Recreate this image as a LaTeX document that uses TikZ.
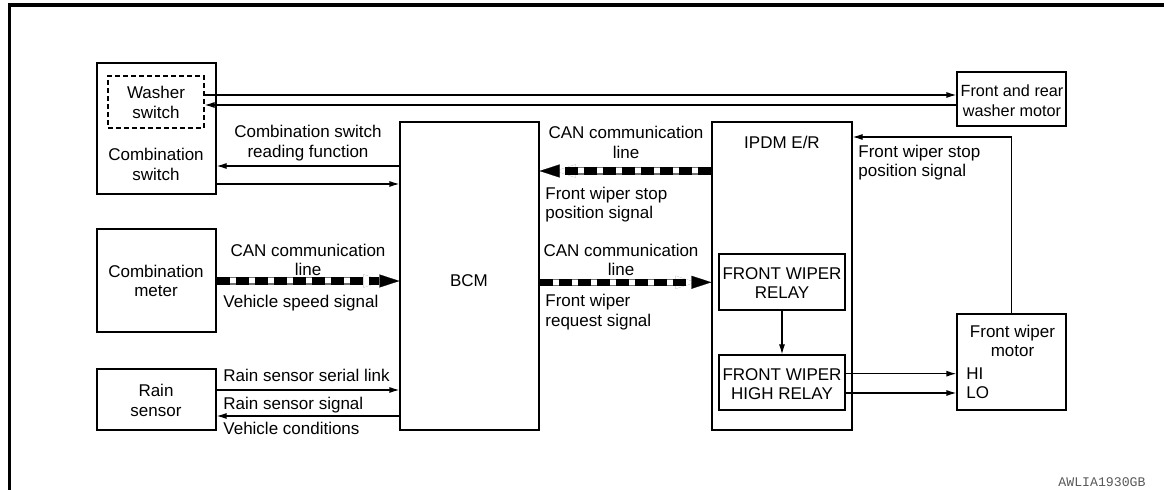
\documentclass[tikz,border=0pt]{standalone}
\usepackage{fontspec}
\setmainfont{Liberation Sans}
\newfontfamily\codefont{Liberation Mono}
\usetikzlibrary{arrows.meta,fit,calc}
\newcommand{\lblfont}{\fontsize{8.5}{9.75}\selectfont}
\tikzset{
  box/.style={draw, line width=0.6pt, inner sep=0pt},
  dbox/.style={draw, line width=0.6pt, inner sep=0pt, dash pattern=on 2.5pt off 1.5pt},
  lbl/.style={font=\lblfont, inner sep=0pt, align=center},
  lbll/.style={font=\lblfont, inner sep=0pt, align=left},
  arr/.style={line width=0.6pt, -{Latex[length=5pt,width=3pt]}},
  canline/.style={
    preaction={draw, black!55, line width=3.6pt, shorten >=8pt},
    preaction={draw, white, line width=2.5pt, shorten >=8pt},
    draw=black, line width=3.6pt, dash pattern=on 6.5pt off 3pt,
    -{Triangle[length=10pt,width=6.5pt,line width=0.1pt]}},
}
\begin{document}
\begin{tikzpicture}[x=0.5pt,y=-0.5pt]
\useasboundingbox (0,0) rectangle (1164,490);
% frame
\draw[line width=1.75pt] (9.3,490) -- (9.3,5) -- (1164,5);

% y-levels
\coordinate (y95) at (0,95);
\coordinate (y105) at (0,105);
\coordinate (y166) at (0,166);
\coordinate (y184) at (0,184);
\coordinate (y171) at (0,171);
\coordinate (y281) at (0,281);
\coordinate (y282) at (0,282.3);
\coordinate (y390) at (0,390);
\coordinate (y416) at (0,416);
\coordinate (y137) at (0,137);
\coordinate (y374) at (0,373.7);
\coordinate (y393) at (0,393);

% boxes
\node[box, fit={(97,63) (216,194)}] (cs) {};
\node[dbox, fit={(108,76) (204,128)}] (ws) {};
\node[box, fit={(97,229) (216,332)}] (cm) {};
\node[box, fit={(97,369) (216,430)}] (rs) {};
\node[box, fit={(400,122) (539,430)}] (bcm) {};
\node[box, fit={(712,122) (852,430)}] (ipdm) {};
\node[box, fit={(719,254) (845,310)}] (relay) {};
\node[box, fit={(719,355) (845,410)}] (hrelay) {};
\node[box, fit={(957,72) (1066,126)}] (wm) {};
\node[box, fit={(957,314) (1066,410)}] (motor) {};

% box texts
\node[lbl] (tws) at (156,102.5) {Washer\\switch};
\node[lbl] (tcs) at (156,164.5) {Combination\\switch};
\node[lbl] (tcm) at (156,281) {Combination\\meter};
\node[lbl] (trs) at (156,400.5) {Rain\\sensor};
\node[lbl] (tbcm) at (469,281) {BCM};
\node[lbl] (tipdm) at (782,142) {IPDM E/R};
\node[lbl] (trelay) at (782,283) {FRONT WIPER\\RELAY};
\node[lbl] (threlay) at (782,384) {FRONT WIPER\\HIGH RELAY};
\node[lbl, font=\fontsize{8.1}{9.75}\selectfont] (twm) at (1012,100.5) {Front and rear\\washer motor};
\node[lbl] (tmotor) at (1012.5,341) {Front wiper\\motor};
\node[lbl, anchor=base west] (thi) at (966,379.7) {HI};
\node[lbl, anchor=base west] (tlo) at (966,399) {LO};

% connector labels
\node[lbl] (l1) at (308,143) {Combination switch\\reading function};
\node[lbl] (l2) at (626,142.5) {CAN communication\\line};
\node[lbll, anchor=west] (l3) at (545,204.5) {Front wiper stop\\position signal};
\node[lbl] (l4) at (621,260) {CAN communication\\line};
\node[lbll, anchor=west] (l5) at (545,312) {Front wiper\\request signal};
\node[lbl] (l6) at (308,260) {CAN communication\\line};
\node[lbll, anchor=base west] (l7) at (223,308) {Vehicle speed signal};
\node[lbll, anchor=base west] (l8) at (223,381.7) {Rain sensor serial link};
\node[lbll, anchor=base west] (l9) at (223,409.3) {Rain sensor signal};
\node[lbll, anchor=base west] (l10) at (223,434.7) {Vehicle conditions};
\node[lbll, anchor=west] (l11) at (858,162.5) {Front wiper stop\\position signal};
\node[inner sep=0pt, font=\codefont\fontsize{6.6}{8}\selectfont, text=black!65] (code) at (1102,481.7) {AWLIA1930GB};

% connectors
\draw[arr] (ws.east |- y95) -- (wm.west |- y95);
\draw[arr] (wm.west |- y105) -- (ws.east |- y105);
\draw[arr] (bcm.west |- y166) -- (cs.east |- y166);
\draw[arr] (cs.east |- y184) -- (bcm.west |- y184);
\draw[canline] (ipdm.west |- y171) -- (bcm.east |- y171);
\draw[canline] (bcm.east |- y282) -- (ipdm.west |- y282);
\draw[canline] (cm.east |- y281) -- (bcm.west |- y281);
\draw[arr] (rs.east |- y390) -- (bcm.west |- y390);
\draw[arr] (bcm.west |- y416) -- (rs.east |- y416);
\draw[arr] (relay.south) -- (hrelay.north);
\draw[arr] (hrelay.east |- y374) -- (motor.west |- y374);
\draw[arr] (hrelay.east |- y393) -- (motor.west |- y393);
\draw[arr] (motor.north) |- (ipdm.east |- y137);
\end{tikzpicture}
\end{document}
